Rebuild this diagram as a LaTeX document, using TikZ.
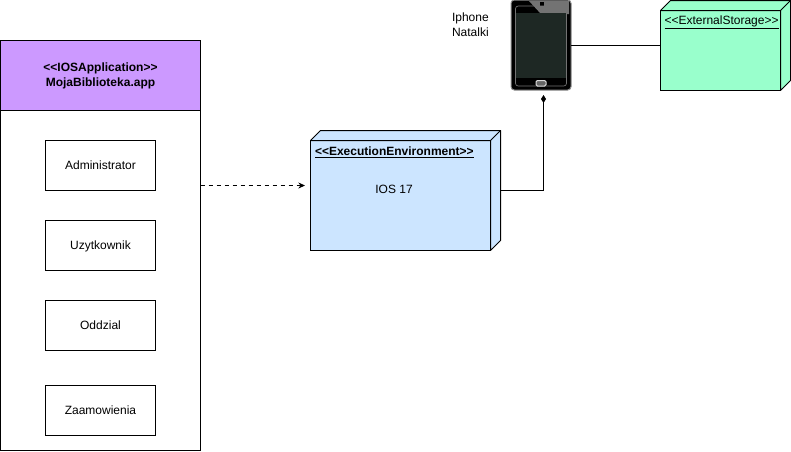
\documentclass[tikz,border=0pt]{standalone}
\usepackage{fontspec}
\setmainfont{Liberation Sans}
\definecolor{apppurple}{RGB}{204,153,255}
\definecolor{envblue}{RGB}{204,229,255}
\definecolor{storegreen}{RGB}{153,255,204}
\definecolor{phonescreen}{RGB}{30,40,36}
\usetikzlibrary{positioning}
\usetikzlibrary{arrows.meta}
\newcommand{\stereo}[1]{\textless\kern0pt\textless #1\textgreater\kern0pt\textgreater}
\tikzset{
  box/.style={draw, line width=0.75pt, inner sep=0pt, outer sep=0pt, align=center, font=\fontsize{9}{11.25}\selectfont},
  classbox/.style={box, minimum width=82.5pt, minimum height=37.5pt, text height=8pt, text depth=2pt},
  face/.style={box, anchor=north west},
  caption/.style={inner sep=0pt, outer sep=0pt, align=left, font=\fontsize{9}{11.25}\selectfont},
  link/.style={draw, line width=0.75pt},
}
\begin{document}
\begin{tikzpicture}[x=0.75pt, y=-0.75pt, node distance=22.5pt]
  \useasboundingbox (0,0) rectangle (791,451);

  % application
  \node [box, fill=apppurple, minimum width=150pt, minimum height=52.5pt, anchor=north west] (apphead) at (0.5,40.5) {\textbf{\stereo{IOSApplication}}\\\textbf{MojaBiblioteka.app}};
  \node [box, minimum width=150pt, minimum height=255pt, below=0pt of apphead] (appbody) {};
  \node [classbox, anchor=north west] (admin) at (45.5,140.5) {Administrator};
  \node [classbox, below=of admin] (user) {Uzytkownik};
  \node [classbox, below=of user] (branch) {Oddzial};
  \node [classbox, below=26.25pt of branch] (order) {Zaamowienia};

  % execution environment
  \node [face, fill=envblue, minimum width=135pt, minimum height=82.5pt] (env) at (310.5,140.5) {};
  \draw [line width=0.75pt, fill=envblue, line join=round] (env.north west) -- ++(10,-10) -- ++(180,0) -- ++(0,110) -- (env.south east) -- (env.north east) -- cycle;
  \draw [line width=0.75pt] (env.north east) -- ++(10,-10);
  \node [caption, anchor=north west] (envtitle) at (315,146.5) {\textbf{\underline{\stereo{ExecutionEnvironment}}}};
  \node [caption] (envname) at (394,189.5) {IOS 17};

  % external storage
  \node [face, fill=storegreen, minimum width=90pt, minimum height=60pt] (store) at (660.5,10.5) {};
  \draw [line width=0.75pt, fill=storegreen, line join=round] (store.north west) -- ++(10,-10) -- ++(120,0) -- ++(0,80) -- (store.south east) -- (store.north east) -- cycle;
  \draw [line width=0.75pt] (store.north east) -- ++(10,-10);
  \node [caption, anchor=north west] (storetitle) at (664.5,15.5) {\underline{\stereo{ExternalStorage}}};

  % phone
  \node [draw=black!45, fill=black, line width=0.75pt, rounded corners=2.5pt, minimum width=45pt, minimum height=67.5pt, inner sep=0pt, outer sep=0pt] (phone) at (541,45) {};
  \fill [black!55] (529,1) -- (569,1) -- (569,14) -- (541,14) -- cycle;
  \fill [black] (540,2) rectangle (544,6);
  \fill [phonescreen] (516,13) rectangle (566,78);
  \draw [black!55, line width=0.5pt, rounded corners=2pt] (515.5,6) rectangle (566.5,86);
  \draw [white!85!black, line width=0.75pt, fill=black!60, rounded corners=1pt] (536,80.5) rectangle (546,86);
  \node [caption, anchor=north west] (phonename) at (452,12.5) {Iphone\\Natalki};

  % connectors
  \coordinate (envin) at (305,185.5);
  \coordinate (envside) at (500.5,190.5);
  \coordinate (phonein) at (543.5,95);
  \draw [link, dash pattern=on 3pt off 3pt, -{Stealth[length=5pt,width=4.5pt]}] (appbody.east |- envin) -- (envin);
  \draw [link, -{Diamond[length=6pt,width=3.75pt]}] (envside) -| (phonein);
  \draw [link] (phone.east) -- (phone.east -| store.west);
\end{tikzpicture}
\end{document}
